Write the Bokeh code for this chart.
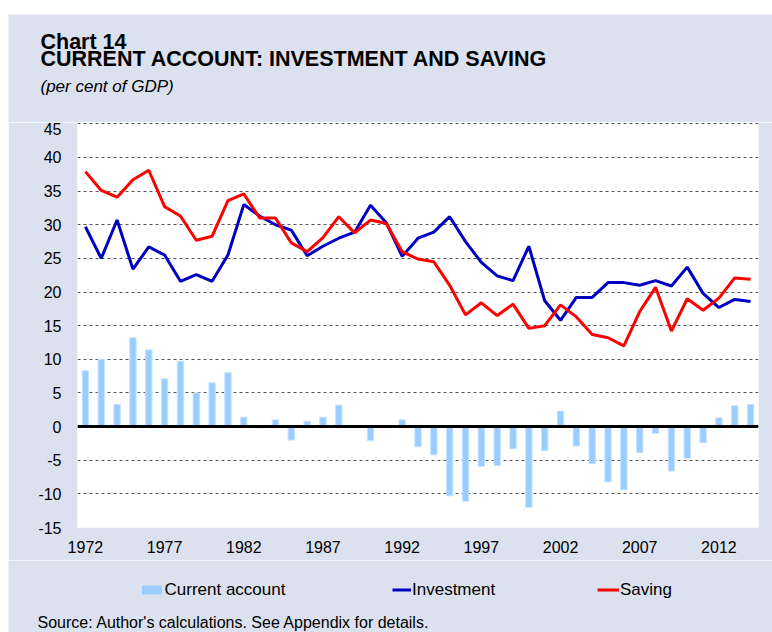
from bokeh.plotting import figure
from bokeh.models import Range1d, FixedTicker, Span, Label, Legend, LegendItem, Spacer
from bokeh.layouts import column, row
from bokeh.embed import file_html
from bokeh.resources import INLINE

# ---------------- data ----------------
years = [1972, 1973, 1974, 1975, 1976, 1977, 1978, 1979, 1980, 1981,
         1982, 1983, 1984, 1985, 1986, 1987, 1988, 1989, 1990, 1991,
         1992, 1993, 1994, 1995, 1996, 1997, 1998, 1999, 2000, 2001,
         2002, 2003, 2004, 2005, 2006, 2007, 2008, 2009, 2010, 2011,
         2012, 2013, 2014]

current_account = [8.3, 10.0, 3.3, 13.2, 11.4, 7.1, 9.7, 5.0, 6.5, 8.0,
                   1.4, -0.2, 1.0, -2.0, 0.8, 1.4, 3.2, 0.0, -2.1, 0.0,
                   1.0, -3.0, -4.2, -10.3, -11.1, -5.9, -5.8, -3.3, -12.0, -3.6,
                   2.3, -2.9, -5.5, -8.2, -9.4, -3.9, -1.0, -6.6, -4.7, -2.4,
                   1.3, 3.1, 3.3]

investment = [29.7, 25.0, 30.7, 23.4, 26.7, 25.5, 21.6, 22.6, 21.6, 25.5,
              33.0, 31.3, 30.0, 29.2, 25.4, 26.8, 28.0, 28.9, 32.9, 30.3,
              25.3, 28.0, 28.9, 31.2, 27.5, 24.4, 22.4, 21.7, 26.8, 18.7,
              15.8, 19.2, 19.2, 21.4, 21.4, 21.0, 21.7, 20.9, 23.7, 19.8,
              17.7, 18.9, 18.6]

saving = [37.9, 35.1, 34.1, 36.7, 38.1, 32.7, 31.3, 27.7, 28.3, 33.6,
          34.6, 31.0, 31.0, 27.3, 26.0, 28.1, 31.2, 28.8, 30.7, 30.2,
          26.0, 24.9, 24.5, 21.0, 16.6, 18.4, 16.5, 18.2, 14.6, 15.0,
          18.1, 16.3, 13.7, 13.2, 12.0, 17.1, 20.7, 14.2, 19.0, 17.3,
          19.1, 22.1, 21.9]

x_ticks = [1972, 1977, 1982, 1987, 1992, 1997, 2002, 2007, 2012]
y_ticks = [-15, -10, -5, 0, 5, 10, 15, 20, 25, 30, 35, 40, 45]
y_tick_labels = ["-15", "-10", "-5", "0", "5", "10", "15", "20", "25", "30", "35", "40", "45"]

title_line1 = "Chart 14"
title_line2 = "CURRENT ACCOUNT: INVESTMENT AND SAVING"
subtitle = "(per cent of GDP)"
source = "Source: Author's calculations. See Appendix for details."
series_names = ["Current account", "Investment", "Saving"]

# ---------------- styling ----------------
BG = "#DBE1EE"
FONT = "Liberation Sans"
BAR_COLOR = "#99CCFF"
BAR_EDGE = "#C6E2FF"
INV_COLOR = "#0000C0"
SAV_COLOR = "#FF0000"
W = 764

def blank_panel(height):
    f = figure(width=W, height=height, title=None,
               x_range=Range1d(0, W), y_range=Range1d(height, 0),
               x_axis_type=None, y_axis_type=None,
               output_backend="svg", toolbar_location=None,
               min_border=0, min_border_left=0, min_border_right=0,
               min_border_top=0, min_border_bottom=0,
               outline_line_color=None,
               background_fill_color=BG, border_fill_color=BG)
    f.xgrid.visible = False
    f.ygrid.visible = False
    return f

# ---------------- header ----------------
header = blank_panel(108)
header.add_layout(Label(x=32, y=27.0, text=title_line1,
                        text_font=FONT, text_font_style="bold", text_font_size="21.5px",
                        text_color="black", text_baseline="alphabetic"))
header.add_layout(Label(x=32, y=44.6, text=title_line2,
                        text_font=FONT, text_font_style="bold", text_font_size="21.5px",
                        text_color="black", text_baseline="alphabetic"))
header.add_layout(Label(x=32, y=72.0, text=subtitle,
                        text_font=FONT, text_font_style="italic", text_font_size="17px",
                        text_color="black", text_baseline="alphabetic"))

# ---------------- main chart ----------------
p = figure(width=W, height=438, title=None,
           output_backend="svg", toolbar_location=None,
           x_range=Range1d(1971.5, 2014.5), y_range=Range1d(-15, 45.2),
           min_border_left=69, min_border_right=14,
           min_border_top=0, min_border_bottom=33,
           background_fill_color="white", border_fill_color=BG,
           outline_line_color=None)

p.vbar(x=years, top=current_account, width=0.4,
       fill_color=BAR_COLOR, line_color=BAR_EDGE, line_width=1)
p.line(years, investment, line_color=INV_COLOR, line_width=3)
p.line(years, saving, line_color=SAV_COLOR, line_width=3)

p.add_layout(Span(location=0, dimension="width", line_color="black", line_width=3))

p.xaxis.ticker = FixedTicker(ticks=x_ticks)
p.yaxis.ticker = FixedTicker(ticks=y_ticks)
p.yaxis.major_label_overrides = dict(zip(y_ticks, y_tick_labels))
for ax in p.axis:
    ax.axis_line_color = None
    ax.major_tick_line_color = None
    ax.minor_tick_line_color = None
    ax.major_tick_in = 0
    ax.major_tick_out = 0
    ax.major_label_text_font = FONT
    ax.major_label_text_font_size = "16px"
    ax.major_label_text_color = "black"
p.yaxis.major_label_standoff = 16
p.xaxis.major_label_standoff = 13

p.xgrid.grid_line_color = None
p.ygrid.grid_line_color = "#555555"
p.ygrid.grid_line_dash = "3 3"
p.ygrid.grid_line_width = 1

# ---------------- footer: legend + source ----------------
footer = blank_panel(72)
# legend keys (single off-canvas point each, only used for the legend swatches)
leg_bar = footer.vbar(x=years[:1], top=current_account[:1], width=0.4,
                      fill_color=BAR_COLOR, line_color=None)
leg_inv = footer.line(x=years[:1], y=investment[:1], line_color=INV_COLOR, line_width=3)
leg_sav = footer.line(x=years[:1], y=saving[:1], line_color=SAV_COLOR, line_width=3)

def make_legend(label, renderer, loc, gw, gh, standoff):
    leg = Legend(items=[LegendItem(label=label, renderers=[renderer])],
                 location=loc, orientation="horizontal",
                 padding=0, margin=0, spacing=0,
                 glyph_width=gw, glyph_height=gh, label_standoff=standoff,
                 label_height=20,
                 label_text_font=FONT, label_text_font_size="17px",
                 label_text_color="black",
                 border_line_color=None, background_fill_alpha=0)
    footer.add_layout(leg)

make_legend(series_names[0], leg_bar, (130.5, 32.5), 25, 11, 1)
make_legend(series_names[1], leg_inv, (384, 32.5), 19, 9, 1)
make_legend(series_names[2], leg_sav, (589, 32.5), 22, 9, 1)

footer.add_layout(Label(x=29, y=62, text=source,
                        text_font=FONT, text_font_size="16px",
                        text_color="black", text_baseline="alphabetic"))

chart = column(header, row(p, spacing=0), footer, spacing=0)
layout = column(Spacer(width=772, height=14),
                row(Spacer(width=8, height=618), chart, spacing=0),
                spacing=0)

open("out.html", "w").write(file_html(layout, INLINE))
